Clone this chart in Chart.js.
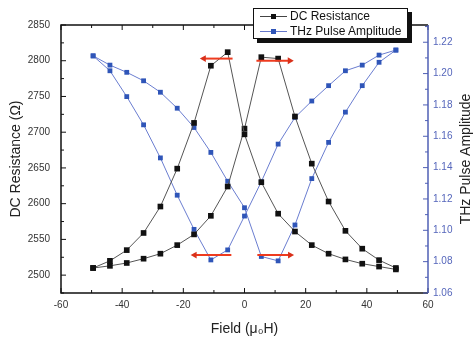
<!DOCTYPE html>
<html>
<head>
<meta charset="utf-8">
<script src="https://cdn.jsdelivr.net/npm/chart.js@4.4.0/dist/chart.umd.min.js"></script>
<style>
  html, body { margin: 0; padding: 0; background: #fff; }
  #wrap { position: relative; width: 474px; height: 339px; overflow: hidden; }
  #legend {
    position: absolute; left: 253px; top: 8px; width: 153px; height: 29px;
    border: 1px solid #111; background: #fff; box-shadow: 4px 4px 0 #111;
    font-family: "Liberation Sans", Arial, sans-serif; font-size: 12px; color: #111;
  }
  .row { position: absolute; left: 0; height: 15px; line-height: 15px; white-space: nowrap; }
  .sample { position: absolute; left: 6px; top: 7px; width: 27px; height: 1px; }
  .mark { position: absolute; left: 11px; top: -2px; width: 5px; height: 5px; }
  .lbl { position: absolute; left: 36px; top: 0; }
</style>
</head>
<body>
<div id="wrap">
  <canvas id="c" width="474" height="339"></canvas>
  <div id="legend">
    <div class="row" style="top:0px"><div class="sample" style="background:#444"><div class="mark" style="background:#111"></div></div><span class="lbl">DC Resistance</span></div>
    <div class="row" style="top:15px"><div class="sample" style="background:#6678cc"><div class="mark" style="background:#2f55b8"></div></div><span class="lbl">THz Pulse Amplitude</span></div>
  </div>
</div>
<script>
// ---- data ----
const fieldValues = [-49.5, -44, -38.5, -33, -27.5, -22, -16.5, -11, -5.5, 0, 5.5, 11, 16.5, 22, 27.5, 33, 38.5, 44, 49.5];
const dcBranchA = [2510, 2520, 2535, 2559, 2596, 2649, 2713, 2793, 2812, 2697, 2630, 2586, 2561, 2542, 2530, 2522, 2516, 2512, 2508];
const dcBranchB = [2510, 2513, 2517, 2523, 2530, 2542, 2557, 2583, 2624, 2705, 2805, 2803, 2722, 2656, 2603, 2562, 2537, 2521, 2510];
const thzBranchA = [1.2113, 1.2018, 1.1853, 1.1673, 1.1462, 1.1224, 1.1006, 1.0811, 1.0875, 1.1091, 1.1310, 1.1550, 1.1720, 1.1825, 1.1923, 1.2018, 1.2054, 1.2118, 1.2150];
const thzBranchB = [1.2113, 1.2054, 1.2008, 1.1954, 1.1881, 1.1779, 1.1656, 1.1497, 1.1313, 1.1144, 1.0833, 1.0805, 1.1034, 1.1330, 1.1561, 1.1754, 1.1923, 1.2072, 1.2150];
// red sweep arrows (field from tail to head, resistance level)
const arrowTopLeftX = [-3.9, -13.3];   const arrowTopLeftY = 2803;
const arrowTopRightX = [3.9, 14.8];    const arrowTopRightY = 2800;
const arrowBotLeftX = [-4.3, -16.3];   const arrowBotLeftY = 2528;
const arrowBotRightX = [4.2, 14.9];    const arrowBotRightY = 2528;
// axes
const xMin = -60, xMax = 60, xStep = 20;
const yMin = 2475, yMax = 2850, yStep = 50;
const y2Min = 1.06, y2Max = 1.231, y2Step = 0.02;
const xTitle = 'Field (\u03bc\u2080H)';
const yTitle = 'DC Resistance (\u03a9)';
const y2Title = 'THz Pulse Amplitude';

const FONT = '"Liberation Sans", Arial, sans-serif';
const pts = (xs, ys) => xs.map((x, i) => ({ x, y: ys[i] }));
const arrow = (xs, y) => xs.map(x => ({ x, y }));

function arrowDs(xs, y, dir) {
  return {
    data: arrow(xs, y), yAxisID: 'y', borderColor: '#ee3b1f', borderWidth: 2,
    backgroundColor: '#ee3b1f', pointBackgroundColor: '#d9301a', pointBorderWidth: 0,
    pointStyle: 'triangle', pointRadius: [0, 4], pointRotation: dir, order: 0
  };
}

const onlyMultiples = step => scale => {
  scale.ticks = scale.ticks.filter(t => Math.abs(t.value / step - Math.round(t.value / step)) < 1e-6);
};

const frame = {
  id: 'frame',
  beforeDatasetsDraw(chart) {
    const { ctx, chartArea: a, scales } = chart;
    ctx.save();
    ctx.lineWidth = 1.5;
    ctx.strokeStyle = '#111';
    ctx.beginPath();
    ctx.moveTo(a.right, a.bottom); ctx.lineTo(a.left, a.bottom); ctx.lineTo(a.left, a.top); ctx.lineTo(a.right, a.top);
    ctx.stroke();
    ctx.lineWidth = 1;
    const xs = scales.x, ys = scales.y, y2 = scales.y2;
    ctx.beginPath();
    for (let i = 0; i < xs.ticks.length; i++) {
      const v = xs.ticks[i].value, p = xs.getPixelForValue(v);
      ctx.moveTo(p, a.bottom); ctx.lineTo(p, a.bottom - 5);
      ctx.moveTo(p, a.top); ctx.lineTo(p, a.top + 5);
      if (i < xs.ticks.length - 1) {
        const m = xs.getPixelForValue((v + xs.ticks[i + 1].value) / 2);
        ctx.moveTo(m, a.bottom); ctx.lineTo(m, a.bottom - 3);
        ctx.moveTo(m, a.top); ctx.lineTo(m, a.top + 3);
      }
    }
    for (let i = 0; i < ys.ticks.length; i++) {
      const v = ys.ticks[i].value, p = ys.getPixelForValue(v);
      ctx.moveTo(a.left, p); ctx.lineTo(a.left + 5, p);
      const m = ys.getPixelForValue(v - yStep / 2);
      ctx.moveTo(a.left, m); ctx.lineTo(a.left + 3, m);
    }
    ctx.stroke();
    ctx.strokeStyle = '#4f5fb5';
    ctx.lineWidth = 1.5;
    ctx.beginPath(); ctx.moveTo(a.right, a.top); ctx.lineTo(a.right, a.bottom); ctx.stroke();
    ctx.lineWidth = 1;
    ctx.beginPath();
    for (let i = 0; i < y2.ticks.length; i++) {
      const v = y2.ticks[i].value, p = y2.getPixelForValue(v);
      ctx.moveTo(a.right, p); ctx.lineTo(a.right - 5, p);
      const m = y2.getPixelForValue(v + y2Step / 2);
      if (m > a.top) { ctx.moveTo(a.right, m); ctx.lineTo(a.right - 3, m); }
    }
    ctx.stroke();
    ctx.restore();
  },
  afterDraw(chart) {
    const { ctx, chartArea: a } = chart;
    ctx.save();
    ctx.fillStyle = '#222';
    ctx.font = '14px ' + FONT;
    ctx.textAlign = 'center';
    ctx.textBaseline = 'middle';
    ctx.translate(466, (a.top + a.bottom) / 2);
    ctx.rotate(-Math.PI / 2);
    ctx.fillText(y2Title, 0, 0);
    ctx.restore();
  }
};

new Chart(document.getElementById('c'), {
  type: 'line',
  data: {
    datasets: [
      arrowDs(arrowTopLeftX, arrowTopLeftY, -90),
      arrowDs(arrowTopRightX, arrowTopRightY, 90),
      arrowDs(arrowBotLeftX, arrowBotLeftY, -90),
      arrowDs(arrowBotRightX, arrowBotRightY, 90),
      { label: 'DC Resistance', data: pts(fieldValues, dcBranchA), yAxisID: 'y', borderColor: '#555', borderWidth: 1,
        pointStyle: 'rect', pointRadius: 4, pointBackgroundColor: '#111', pointBorderWidth: 0, order: 1 },
      { label: 'DC Resistance', data: pts(fieldValues, dcBranchB), yAxisID: 'y', borderColor: '#555', borderWidth: 1,
        pointStyle: 'rect', pointRadius: 4, pointBackgroundColor: '#111', pointBorderWidth: 0, order: 1 },
      { label: 'THz Pulse Amplitude', data: pts(fieldValues, thzBranchA), yAxisID: 'y2', borderColor: '#6a7dd0', borderWidth: 1,
        pointStyle: 'rect', pointRadius: 3.4, pointBackgroundColor: '#2f55b8', pointBorderWidth: 0, order: 2 },
      { label: 'THz Pulse Amplitude', data: pts(fieldValues, thzBranchB), yAxisID: 'y2', borderColor: '#6a7dd0', borderWidth: 1,
        pointStyle: 'rect', pointRadius: 3.4, pointBackgroundColor: '#2f55b8', pointBorderWidth: 0, order: 2 }
    ]
  },
  options: {
    responsive: false, animation: false, devicePixelRatio: 1,
    layout: { padding: { top: 25, left: 0, right: 0, bottom: 0 } },
    plugins: { legend: { display: false }, tooltip: { enabled: false } },
    elements: { line: { tension: 0 } },
    scales: {
      x: {
        type: 'linear', position: 'bottom', min: xMin, max: xMax,
        grid: { display: false, drawTicks: false }, border: { display: false },
        ticks: { stepSize: xStep, color: '#333', font: { family: FONT, size: 10 }, padding: 6, maxRotation: 0,
                 callback: v => String(v) },
        title: { display: true, text: xTitle, color: '#222', font: { family: FONT, size: 14 }, padding: { top: 0, bottom: 1 } },
        afterFit: s => { s.height = 46; }
      },
      y: {
        type: 'linear', position: 'left', min: yMin, max: yMax,
        grid: { display: false, drawTicks: false }, border: { display: false },
        ticks: { stepSize: yStep, color: '#333', font: { family: FONT, size: 10 }, padding: 11,
                 callback: v => String(v) },
        afterBuildTicks: onlyMultiples(yStep),
        title: { display: true, text: yTitle, color: '#222', font: { family: FONT, size: 14 }, padding: { top: 8, bottom: 0 } },
        afterFit: s => { s.width = 61; }
      },
      y2: {
        type: 'linear', position: 'right', min: y2Min, max: y2Max,
        grid: { display: false, drawTicks: false }, border: { display: false },
        ticks: { stepSize: y2Step, color: '#5566bb', font: { family: FONT, size: 10 }, padding: 5,
                 callback: v => Number(v).toFixed(2) },
        afterBuildTicks: onlyMultiples(y2Step),
        afterFit: s => { s.width = 46; }
      }
    }
  },
  plugins: [frame]
});
</script>
</body>
</html>
